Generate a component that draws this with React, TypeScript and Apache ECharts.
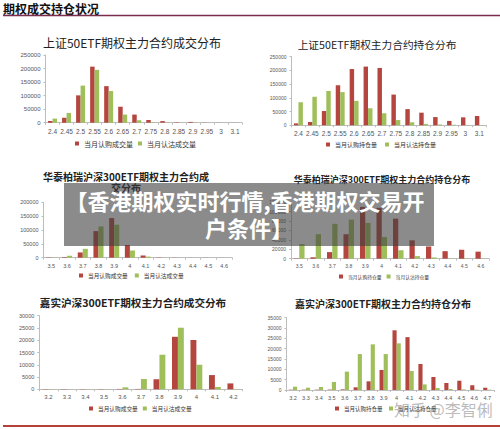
import React, { useEffect, useRef } from "react";
import * as echarts from "echarts";

// ---- data ----
const strikes50 = ["2.4", "2.45", "2.5", "2.55", "2.6", "2.65", "2.7", "2.75", "2.8", "2.85", "2.9", "2.95", "3", "3.1"];
const sz50VolCall = [6000, 18000, 101000, 207000, 135000, 59000, 30000, 10000, 6000, 1500, 3000, 500, 300, 200];
const sz50VolPut = [15000, 36000, 137000, 195000, 117000, 30000, 9000, 2000, 1000, 500, 1000, 200, 100, 100];
const sz50OiCall = [7000, 12000, 52000, 146000, 205000, 214000, 209000, 112000, 59000, 46000, 30000, 16000, 29000, 34000];
const sz50OiPut = [84000, 104000, 125000, 121000, 89000, 62000, 44000, 19000, 11000, 5000, 3000, 2000, 1000, 1000];

const strikesHT = ["3.5", "3.6", "3.7", "3.8", "3.9", "4", "4.1", "4.2", "4.3", "4.4", "4.5", "4.6"];
const htVolCall = [1000, 2000, 19000, 96000, 143000, 46000, 8000, 1000, 500, 300, 300, 200];
const htVolPut = [1000, 7000, 32000, 113000, 119000, 26000, 4000, 500, 300, 200, 100, 100];
const htOiCall = [700, 3000, 14000, 52000, 110000, 108000, 85000, 39000, 26000, 16000, 19000, 15000];
const htOiPut = [31000, 52000, 74000, 83000, 76000, 46000, 18000, 5500, 2700, 700, 700, 300];

const strikesJSVol = ["3.2", "3.3", "3.4", "3.5", "3.6", "3.7", "3.8", "3.9", "4", "4.1", "4.2"];
const jsVolCall = [100, 100, 100, 100, 150, 150, 4100, 21400, 20100, 5800, 2400];
const jsVolPut = [100, 50, 100, 100, 800, 4200, 14100, 25100, 10000, 950, 100];

const strikesJSOi = ["3.2", "3.3", "3.4", "3.5", "3.6", "3.7", "3.8", "3.9", "4", "4.1", "4.2", "4.3", "4.4", "4.5", "4.6", "4.7"];
const jsOiCall = [150, 150, 150, 200, 300, 1300, 4200, 9700, 28900, 25600, 12600, 6300, 3400, 4500, 2300, 1100];
const jsOiPut = [1600, 1100, 1450, 3900, 8900, 17400, 22100, 17400, 22600, 9200, 2700, 1000, 500, 300, 150, 150];

const titles = [
  "上证50ETF期权主力合约成交分布",
  "上证50ETF期权主力合约持仓分布",
  "华泰柏瑞沪深300ETF期权主力合约成\n交分布",
  "华泰柏瑞沪深300ETF期权主力合约持仓分布",
  "嘉实沪深300ETF期权主力合约成交分布",
  "嘉实沪深300ETF期权主力合约持仓分布",
];
const volNames = ["当月认购成交量", "当月认沽成交量"];
const oiNames = ["当月认购持仓量", "当月认沽持仓量"];
const yMax = [250000, 250000, 200000, 120000, 30000, 35000];
const yStep = [50000, 50000, 50000, 20000, 5000, 5000];

const panels = [
  { cats: strikes50, call: sz50VolCall, put: sz50VolPut, names: volNames },
  { cats: strikes50, call: sz50OiCall, put: sz50OiPut, names: oiNames },
  { cats: strikesHT, call: htVolCall, put: htVolPut, names: volNames },
  { cats: strikesHT, call: htOiCall, put: htOiPut, names: oiNames },
  { cats: strikesJSVol, call: jsVolCall, put: jsVolPut, names: volNames },
  { cats: strikesJSOi, call: jsOiCall, put: jsOiPut, names: oiNames },
];

// ---- layout ----
const layout = [
  { l: 45.5, t: 55, w: 196.5, h: 67.7, yf: 6, xf: 6.5, tx: 132, ty: 42, tf: 12, tw: "normal", lx: 75, ly: 144, lf: 7, lg: 5 },
  { l: 291.5, t: 56.7, w: 194.8, h: 68.6, yf: 5, xf: 6.5, tx: 377, ty: 44, tf: 10.7, tw: "normal", lx: 326, ly: 145, lf: 6, lg: 8 },
  { l: 43.5, t: 202.3, w: 188.5, h: 55.4, yf: 5.5, xf: 5.5, tx: 126, ty: 176, tf: 10, tw: "bold", lx: 79, ly: 276, lf: 5.7, lg: 7 },
  { l: 291, t: 202.2, w: 198, h: 56.5, yf: 5, xf: 5, tx: 382, ty: 179.5, tf: 9, tw: "bold", lx: 339, ly: 277, lf: 4.8, lg: 5 },
  { l: 39.3, t: 315.7, w: 203.3, h: 73.6, yf: 5.5, xf: 6, tx: 133, ty: 302.7, tf: 10.6, tw: "bold", lx: 89, ly: 409, lf: 5.7, lg: 5 },
  { l: 286.5, t: 317.7, w: 207.3, h: 72.3, yf: 5, xf: 5.5, tx: 383, ty: 303.5, tf: 10, tw: "bold", lx: 335, ly: 409, lf: 5.5, lg: 6.5 },
];

const RED = "#b4463f";
const GREEN = "#9fbf5a";
const AXIS = "#bdbdbd";
const LABEL = "#555";
const NUMFONT = "'Liberation Sans', Arial, sans-serif";
const CJK = "'Noto Sans CJK SC', sans-serif";

function buildOption() {
  const grid: any[] = [];
  const xAxis: any[] = [];
  const yAxis: any[] = [];
  const series: any[] = [];
  const legend: any[] = [];
  const graphic: any[] = [];

  panels.forEach((p, i) => {
    const L = layout[i];
    grid.push({ left: L.l, top: L.t, width: L.w, height: L.h, containLabel: false });
    xAxis.push({
      type: "category",
      gridIndex: i,
      data: p.cats,
      axisLine: { lineStyle: { color: AXIS, width: 1 } },
      axisTick: { show: true, length: 2, lineStyle: { color: AXIS } },
      axisLabel: { fontSize: L.xf, color: LABEL, margin: 5, interval: 0, fontFamily: NUMFONT },
    });
    yAxis.push({
      type: "value",
      gridIndex: i,
      min: 0,
      max: yMax[i],
      interval: yStep[i],
      axisLine: { show: true, lineStyle: { color: AXIS, width: 1 } },
      axisTick: { show: true, length: 2, lineStyle: { color: AXIS } },
      splitLine: { show: false },
      axisLabel: { fontSize: L.yf, color: LABEL, margin: 5, fontFamily: NUMFONT, formatter: (v: number) => String(v) },
    });
    series.push({
      type: "bar",
      name: p.names[0],
      xAxisIndex: i,
      yAxisIndex: i,
      data: p.call,
      itemStyle: { color: RED },
      barGap: "0%",
      barCategoryGap: "36%",
    });
    series.push({
      type: "bar",
      name: p.names[1],
      xAxisIndex: i,
      yAxisIndex: i,
      data: p.put,
      itemStyle: { color: GREEN },
      barGap: "0%",
      barCategoryGap: "36%",
    });
    legend.push({
      data: p.names,
      left: L.lx,
      top: L.ly - L.lf / 2 - 0.5,
      orient: "horizontal",
      padding: 0,
      itemWidth: 4,
      itemHeight: 4,
      itemGap: L.lg,
      icon: "rect",
      selectedMode: false,
      textStyle: { fontSize: L.lf, color: "#333", fontFamily: CJK },
    });
    graphic.push({
      type: "text",
      x: L.tx,
      y: i === 2 ? L.ty - 5.5 : L.ty,
      z: 10,
      style: {
        text: titles[i],
        fill: "#222",
        font: `${L.tw} ${L.tf}px ${CJK}`,
        align: "center",
        verticalAlign: i === 2 ? "top" : "middle",
        lineHeight: 11,
      },
    });
  });

  graphic.push(
    {
      type: "text",
      x: 3,
      y: 8,
      style: { text: "期权成交持仓状况", fill: "#111", font: `bold 12px ${CJK}`, verticalAlign: "middle", align: "left" },
    },
    { type: "line", shape: { x1: 3, y1: 15.5, x2: 500, y2: 15.5 }, style: { stroke: "#7a2d4c", lineWidth: 1.5 } },
    { type: "line", shape: { x1: 3, y1: 426, x2: 500, y2: 426 }, style: { stroke: "#b5423a", lineWidth: 2 } },
    { type: "rect", z: 100, shape: { x: 64, y: 183, width: 370, height: 63 }, style: { fill: "rgba(62,62,62,0.6)" } },
    {
      type: "text",
      z: 101,
      x: 245,
      y: 200,
      style: { text: "【香港期权实时行情,香港期权交易开", fill: "#fff", font: `bold 22px ${CJK}`, align: "center", verticalAlign: "middle" },
    },
    {
      type: "text",
      z: 101,
      x: 249,
      y: 227,
      style: { text: "户条件】", fill: "#fff", font: `bold 22px ${CJK}`, align: "center", verticalAlign: "middle" },
    },
    {
      type: "text",
      z: 101,
      x: 394,
      y: 409,
      style: { text: "知乎 @李智俐", fill: "rgba(130,130,130,0.55)", font: `16px ${CJK}`, align: "left", verticalAlign: "middle" },
    }
  );

  return {
    animation: false,
    backgroundColor: "#fff",
    grid,
    xAxis,
    yAxis,
    series,
    legend,
    graphic,
  };
}

export default function App() {
  const ref = useRef<HTMLDivElement>(null);
  useEffect(() => {
    if (!ref.current) return;
    const chart = echarts.init(ref.current, undefined, { renderer: "svg" });
    chart.setOption(buildOption() as any);
    return () => chart.dispose();
  }, []);
  return (
    <div
      ref={ref}
      style={{ position: "fixed", left: 0, top: 0, width: 500, height: 429, background: "#fff" }}
    />
  );
}
